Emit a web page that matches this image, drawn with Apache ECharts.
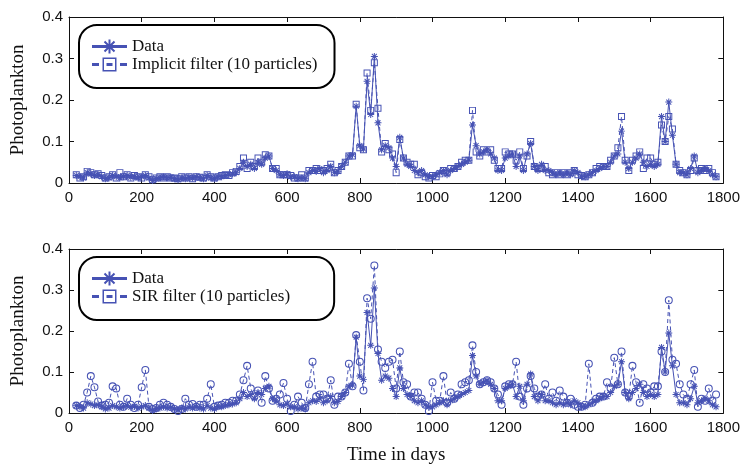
<!DOCTYPE html>
<html>
<head>
<meta charset="utf-8">
<script src="https://cdn.jsdelivr.net/npm/echarts@6/dist/echarts.min.js"></script>
<style>
  html, body { margin: 0; padding: 0; background: #fff; }
  #chart { width: 743px; height: 466px; }
</style>
</head>
<body>
<div id="chart"></div>
<script>
// ---------- data ----------
var days = [
  20, 30, 40, 50, 60, 70, 80, 90, 100, 110,
  120, 130, 140, 150, 160, 170, 180, 190, 200, 210,
  220, 230, 240, 250, 260, 270, 280, 290, 300, 310,
  320, 330, 340, 350, 360, 370, 380, 390, 400, 410,
  420, 430, 440, 450, 460, 470, 480, 490, 500, 510,
  520, 530, 540, 550, 560, 570, 580, 590, 600, 610,
  620, 630, 640, 650, 660, 670, 680, 690, 700, 710,
  720, 730, 740, 750, 760, 770, 780, 790, 800, 810,
  820, 830, 840, 850, 860, 870, 880, 890, 900, 910,
  920, 930, 940, 950, 960, 970, 980, 990, 1000, 1010,
  1020, 1030, 1040, 1050, 1060, 1070, 1080, 1090, 1100, 1110,
  1120, 1130, 1140, 1150, 1160, 1170, 1180, 1190, 1200, 1210,
  1220, 1230, 1240, 1250, 1260, 1270, 1280, 1290, 1300, 1310,
  1320, 1330, 1340, 1350, 1360, 1370, 1380, 1390, 1400, 1410,
  1420, 1430, 1440, 1450, 1460, 1470, 1480, 1490, 1500, 1510,
  1520, 1530, 1540, 1550, 1560, 1570, 1580, 1590, 1600, 1610,
  1620, 1630, 1640, 1650, 1660, 1670,
  1680, 1690, 1700, 1710, 1720, 1730, 1740, 1750, 1760, 1770, 1780
];

var observed = [
  0.018, 0.015, 0.012, 0.025, 0.022, 0.018, 0.02, 0.015, 0.01, 0.012,
  0.018, 0.015, 0.012, 0.015, 0.018, 0.014, 0.016, 0.012, 0.015, 0.018,
  0.012, 0.006, 0.01, 0.012, 0.015, 0.012, 0.014, 0.01, 0.008, 0.012,
  0.01, 0.014, 0.012, 0.015, 0.012, 0.01, 0.018, 0.012, 0.01, 0.015,
  0.015, 0.018, 0.02, 0.022, 0.025, 0.035, 0.05, 0.04, 0.045, 0.035,
  0.05, 0.045, 0.06, 0.065, 0.035, 0.03, 0.02, 0.018, 0.022, 0.015,
  0.015, 0.01, 0.012, 0.01, 0.025, 0.03, 0.028, 0.035, 0.025, 0.03,
  0.04, 0.025, 0.028, 0.04, 0.05, 0.065, 0.068, 0.185, 0.09, 0.082,
  0.245, 0.165, 0.305, 0.145, 0.08, 0.09, 0.085, 0.06, 0.04, 0.11,
  0.06, 0.045, 0.04, 0.03, 0.025, 0.03, 0.02, 0.015, 0.015, 0.02,
  0.025, 0.03, 0.02, 0.03, 0.035, 0.04, 0.045, 0.05, 0.055, 0.14,
  0.09, 0.07, 0.075, 0.08, 0.07, 0.06, 0.03, 0.03, 0.06, 0.065,
  0.07, 0.04, 0.065, 0.03, 0.07, 0.095, 0.04, 0.03, 0.045, 0.03,
  0.03, 0.025, 0.02, 0.025, 0.02, 0.025, 0.02, 0.03, 0.025, 0.015,
  0.015, 0.02, 0.025, 0.03, 0.035, 0.04, 0.04, 0.05, 0.065, 0.07,
  0.125, 0.05, 0.035, 0.05, 0.06, 0.07, 0.05, 0.04, 0.045, 0.04,
  0.045, 0.16, 0.1, 0.195, 0.115, 0.045,
  0.025, 0.025, 0.02, 0.035, 0.065, 0.025, 0.03, 0.035, 0.03, 0.02, 0.015
];

var implicitFilter = [
  0.02, 0.012, 0.015, 0.028, 0.025, 0.02, 0.022, 0.018, 0.012, 0.015,
  0.02, 0.012, 0.025, 0.015, 0.02, 0.012, 0.018, 0.015, 0.012, 0.02,
  0.015, 0.008, 0.012, 0.015, 0.012, 0.015, 0.012, 0.012, 0.01, 0.015,
  0.012, 0.015, 0.01, 0.015, 0.014, 0.012, 0.02, 0.015, 0.012, 0.015,
  0.018, 0.02, 0.018, 0.025, 0.028, 0.04, 0.06, 0.035, 0.05, 0.04,
  0.06, 0.05, 0.068, 0.065, 0.035, 0.035, 0.02, 0.02, 0.02, 0.018,
  0.012, 0.012, 0.02, 0.012, 0.03, 0.03, 0.035, 0.03, 0.03, 0.035,
  0.045, 0.025, 0.03, 0.04, 0.05, 0.065, 0.065, 0.19, 0.085, 0.08,
  0.265, 0.175, 0.29, 0.18, 0.075, 0.095, 0.08, 0.07, 0.025, 0.105,
  0.06, 0.05, 0.045, 0.045, 0.02, 0.025, 0.015, 0.012, 0.018, 0.015,
  0.022, 0.03, 0.025, 0.035, 0.035, 0.04, 0.05, 0.055, 0.055, 0.175,
  0.075, 0.065, 0.08, 0.075, 0.08, 0.055, 0.035, 0.035, 0.075, 0.07,
  0.07, 0.055, 0.075, 0.035, 0.065, 0.1, 0.04, 0.035, 0.035, 0.04,
  0.025, 0.02, 0.025, 0.02, 0.025, 0.02, 0.025, 0.03, 0.02, 0.018,
  0.015, 0.02, 0.025, 0.035, 0.04, 0.04, 0.04, 0.055, 0.065, 0.085,
  0.16, 0.055, 0.03, 0.055, 0.065, 0.075, 0.035, 0.06, 0.06, 0.045,
  0.05, 0.14, 0.1, 0.16, 0.13, 0.045,
  0.03, 0.025, 0.02, 0.03, 0.06, 0.03, 0.035, 0.03, 0.035, 0.025, 0.015
];

var sirFilter = [
  0.018, 0.012, 0.02, 0.05, 0.09, 0.063, 0.028, 0.018, 0.02, 0.025,
  0.065, 0.06, 0.02, 0.015, 0.035, 0.02, 0.012, 0.02, 0.063, 0.105,
  0.015, 0.01, 0.012, 0.02, 0.025, 0.02, 0.015, 0.01, 0.005, 0.01,
  0.035, 0.02, 0.022, 0.015, 0.02, 0.02, 0.035, 0.07, 0.015, 0.018,
  0.02, 0.025, 0.025, 0.03, 0.03, 0.045, 0.08, 0.115, 0.06, 0.04,
  0.055, 0.025, 0.09, 0.06, 0.03, 0.035, 0.045, 0.073, 0.035, 0.005,
  0.02, 0.04, 0.025, 0.012, 0.07, 0.125, 0.04, 0.045, 0.045, 0.035,
  0.08, 0.02, 0.04, 0.04, 0.05, 0.12, 0.065, 0.19, 0.125, 0.055,
  0.28, 0.23, 0.36, 0.155, 0.125, 0.11, 0.125, 0.13, 0.06, 0.15,
  0.075, 0.07, 0.04, 0.05, 0.05, 0.035, 0.02, 0.005, 0.075, 0.03,
  0.03, 0.09, 0.025, 0.05, 0.035, 0.045, 0.07, 0.075, 0.08, 0.165,
  0.1, 0.07, 0.075, 0.08, 0.075, 0.06, 0.045, 0.02, 0.065, 0.07,
  0.07, 0.125, 0.04, 0.02, 0.06, 0.09, 0.06, 0.04, 0.045, 0.07,
  0.035, 0.05, 0.03, 0.055, 0.04, 0.025, 0.035, 0.02, 0.015, 0.015,
  0.02, 0.12, 0.025, 0.035, 0.04, 0.04, 0.075, 0.06, 0.135, 0.07,
  0.15, 0.05, 0.04, 0.115, 0.075, 0.025, 0.07, 0.06, 0.05, 0.065,
  0.065, 0.15, 0.1, 0.275, 0.13, 0.12,
  0.07, 0.045, 0.035, 0.07, 0.105, 0.015, 0.035, 0.03, 0.06, 0.03, 0.045
];

var xTicks = [0, 1800, 200];
var yTicks = [0, 0.4, 0.1];

// ---------- style ----------
var BLUE = '#4652b4';
var INK = '#111';
var SERIF = '"Liberation Serif", "DejaVu Serif", serif';
var SANS = '"Liberation Sans", Arial, sans-serif';

// matlab-like markers as filled paths
var STAR = 'path://M-0.7,-5L0.7,-5L0.7,5L-0.7,5Z M-5,-0.7L5,-0.7L5,0.7L-5,0.7Z M-3.04,-4.03L4.03,3.04L3.04,4.03L-4.03,-3.04Z M4.03,-3.04L-3.04,4.03L-4.03,3.04L3.04,-4.03Z';
var SQUARE = 'path://M-5,-5L5,-5L5,5L-5,5Z M-3.6,-3.6L-3.6,3.6L3.6,3.6L3.6,-3.6Z';
var RING = 'path://M0,-5A5,5,0,1,1,0,5A5,5,0,1,1,0,-5Z M0,-3.7A3.7,3.7,0,1,0,0,3.7A3.7,3.7,0,1,0,0,-3.7Z';
var DATA_ICON = 'path://M0,5.5L35,5.5L35,8.5L0,8.5Z M16.5,0L18.5,0L18.5,14L16.5,14Z M13.21,1.29L23.21,11.29L21.79,12.71L11.79,2.71Z M23.21,2.71L13.21,12.71L11.79,11.29L21.79,1.29Z';
var FILTER_ICON = 'path://M0,5.5L7,5.5L7,8.5L0,8.5Z M10.5,0L24.5,0L24.5,14L10.5,14Z M12,1.5L12,12.5L23,12.5L23,1.5Z M14.5,5.5L20.5,5.5L20.5,8.5L14.5,8.5Z M28,5.5L35,5.5L35,8.5L28,8.5Z';

function pairs(vals) {
  return days.map(function (d, i) { return [d, vals[i]]; });
}

function xAxisDef(grid, pos, withLabel, name) {
  return {
    type: 'value', gridIndex: grid, position: pos,
    min: xTicks[0], max: xTicks[1], interval: xTicks[2],
    name: name || '', nameLocation: 'middle', nameGap: 33,
    nameTextStyle: { fontFamily: SERIF, fontSize: 19, color: INK },
    axisLine: { show: true, onZero: false, lineStyle: { color: INK, width: 1 } },
    axisTick: { show: true, inside: true, length: 5, lineStyle: { color: INK } },
    axisLabel: {
      show: withLabel, margin: 7, fontFamily: SANS, fontSize: 15, color: INK,
      formatter: function (v) { return String(v); }
    },
    splitLine: { show: false }
  };
}

function yAxisDef(grid, pos, withLabel) {
  return {
    type: 'value', gridIndex: grid, position: pos,
    min: yTicks[0], max: yTicks[1], interval: yTicks[2],
    name: withLabel ? 'Photoplankton' : '', nameLocation: 'middle', nameGap: 41,
    nameTextStyle: { fontFamily: SERIF, fontSize: 19, color: INK },
    axisLine: { show: true, onZero: false, lineStyle: { color: INK, width: 1 } },
    axisTick: { show: true, inside: true, length: 5, lineStyle: { color: INK } },
    axisLabel: { show: withLabel, margin: 6, fontFamily: SANS, fontSize: 15, color: INK },
    splitLine: { show: false }
  };
}

function legendDef(top, filterName, padRight) {
  return {
    left: 79, top: top, orient: 'vertical',
    selectedMode: false,
    backgroundColor: '#fff',
    borderColor: '#000', borderWidth: 2, borderRadius: 18,
    padding: [13, padRight, 15, 13],
    itemWidth: 35, itemHeight: 14, itemGap: 1,
    textStyle: { fontFamily: SERIF, fontSize: 17, color: INK },
    data: [
      { name: 'Data', icon: DATA_ICON },
      { name: filterName, icon: FILTER_ICON }
    ]
  };
}

function lineSeries(name, xi, vals, symbol, size, dashed) {
  return {
    name: name, type: 'line', xAxisIndex: xi, yAxisIndex: xi,
    data: pairs(vals),
    symbol: symbol, symbolSize: size, symbolKeepAspect: true,
    showAllSymbol: true,
    itemStyle: { color: BLUE, borderWidth: 0 },
    lineStyle: { color: BLUE, width: 1, type: dashed ? [4, 3] : 'solid' },
    emphasis: { disabled: true },
    z: dashed ? 3 : 2
  };
}

var chart = echarts.init(document.getElementById('chart'));
chart.setOption({
  animation: false,
  backgroundColor: '#fff',
  grid: [
    { left: 69, right: 18, top: 17, height: 166 },
    { left: 69, right: 18, top: 249, height: 166 }
  ],
  legend: [
    legendDef(25, 'Implicit filter (10 particles)', 17),
    legendDef(257, 'SIR filter (10 particles)', 44)
  ],
  xAxis: [
    xAxisDef(0, 'bottom', true),
    xAxisDef(0, 'top', false),
    xAxisDef(1, 'bottom', true, 'Time in days'),
    xAxisDef(1, 'top', false)
  ],
  yAxis: [
    yAxisDef(0, 'left', true),
    yAxisDef(0, 'right', false),
    yAxisDef(1, 'left', true),
    yAxisDef(1, 'right', false)
  ],
  series: [
    lineSeries('Data', 0, observed, STAR, 7, false),
    lineSeries('Implicit filter (10 particles)', 0, implicitFilter, SQUARE, 7, true),
    lineSeries('Data', 2, observed, STAR, 7, false),
    lineSeries('SIR filter (10 particles)', 2, sirFilter, RING, 8, true)
  ]
});
</script>
</body>
</html>
